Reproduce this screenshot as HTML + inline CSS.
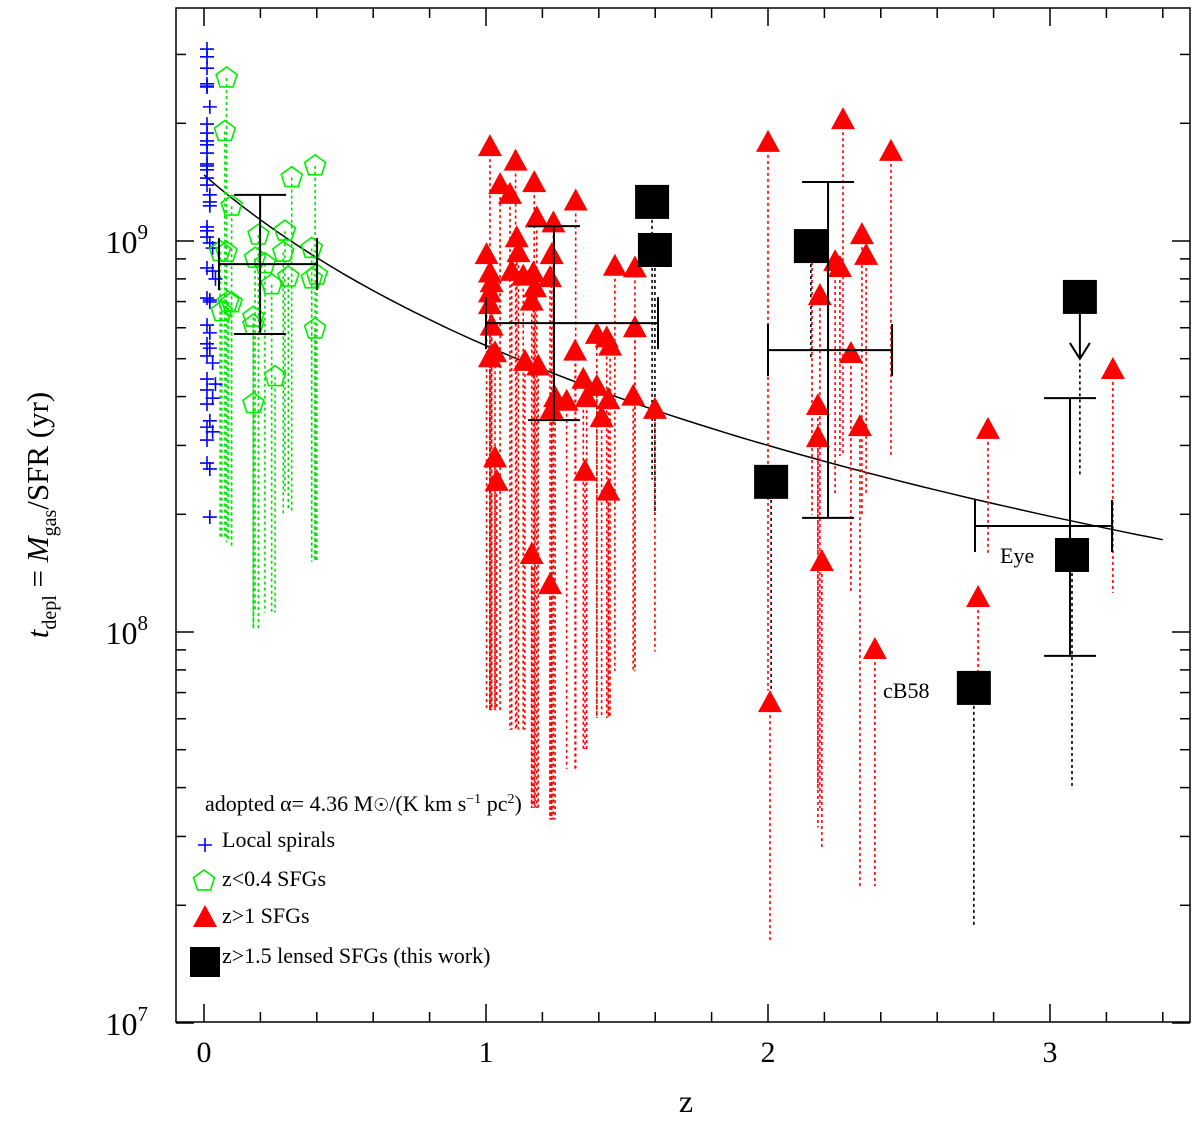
<!DOCTYPE html>
<html><head><meta charset="utf-8"><style>
body{margin:0;background:#fff}
svg{display:block;font-family:"Liberation Serif",serif}
</style></head><body>
<svg id="chart" width="1200" height="1126" viewBox="0 0 1200 1126" xmlns="http://www.w3.org/2000/svg">
<rect x="176" y="8" width="1014" height="1014" fill="none" stroke="#000" stroke-width="1.5"/>
<g id="ticks"></g>
<g id="lines"></g>
<g id="marks"></g>
<text x="686" y="1112" font-size="32" text-anchor="middle">z</text>
<text transform="translate(48,515) rotate(-90)" font-size="31" text-anchor="middle"><tspan font-style="italic">t</tspan><tspan font-size="20" dy="8">depl</tspan><tspan dy="-8"> = </tspan><tspan font-style="italic">M</tspan><tspan font-size="20" dy="8">gas</tspan><tspan dy="-8">/SFR (yr)</tspan></text>
<g font-size="22">
<text x="205" y="811">adopted α= 4.36 M<tspan font-family="DejaVu Sans" font-size="18">☉</tspan>/(K km s<tspan font-size="14" dy="-8">−1</tspan><tspan dy="8"> pc</tspan><tspan font-size="14" dy="-8">2</tspan><tspan dy="8">)</tspan></text>
<g id="legendsym"></g>
<text x="222" y="847">Local spirals</text>
<text x="222" y="886">z&lt;0.4 SFGs</text>
<text x="222" y="923">z&gt;1 SFGs</text>
<text x="222" y="963">z&gt;1.5 lensed SFGs (this work)</text>
</g>
<text x="1000" y="563" font-size="22">Eye</text>
<text x="883" y="698" font-size="22">cB58</text>
</svg>
<script>
// Data (z, log10 t_depl)
const spiralZ=[0,0,0,0,0,0,0.01,0,0,0,0,0,0,0,0,0,0,0.01,0.01,0.01,0,0,0,0.01,0.02,0,0.02,0.03,0,0.01,0.01,0,0.01,0,0.01,0,0.02,0,0.03,0,0.02,0,0.01,0,0.02,0,0,0.01,0.01];
const spiralLogT=[9.491,9.471,9.442,9.402,9.396,9.394,9.343,9.299,9.276,9.256,9.246,9.225,9.197,9.192,9.182,9.161,9.143,9.118,9.100,9.090,9.036,9.026,9.010,8.995,8.982,8.931,8.923,8.903,8.854,8.849,8.844,8.785,8.765,8.737,8.726,8.706,8.688,8.647,8.634,8.619,8.598,8.583,8.540,8.524,8.512,8.491,8.432,8.417,8.294];
const lowZ=[0.080,0.074,0.098,0.057,0.080,0.193,0.287,0.311,0.394,0.181,0.281,0.382,0.216,0.240,0.299,0.382,0.400,0.063,0.086,0.098,0.175,0.175,0.394,0.252,0.175];
const lowLogT=[9.417,9.280,9.089,8.973,8.971,9.015,9.025,9.162,9.192,8.956,8.971,8.981,8.942,8.888,8.908,8.903,8.913,8.819,8.844,8.842,8.805,8.785,8.775,8.653,8.584];
const lowBottom=[8.24,8.24,8.22,8.24,8.23,8.01,8.36,8.31,8.18,8.05,8.30,8.18,8.05,8.05,8.31,8.18,8.18,8.24,8.23,8.22,8.01,8.01,8.18,8.05,8.01];
const hiZ=[1.014,1.105,1.050,1.085,1.171,1.318,1.180,1.239,1.109,1.115,1.233,1.002,1.014,1.020,1.091,1.132,1.168,1.227,1.174,1.162,1.014,1.014,1.020,1.457,1.528,1.528,1.393,1.428,1.440,1.316,1.014,1.032,1.138,1.185,1.345,1.393,1.434,1.522,1.599,1.245,1.286,1.233,1.357,1.410,1.032,1.038,1.351,1.434,1.162,1.227,
2.000,2.266,2.436,2.156,2.238,2.333,2.348,2.255,2.184,2.294,2.177,2.177,2.326,2.191,2.007,2.379,2.745,2.780,3.223];
const hiLogT=[9.240,9.203,9.143,9.118,9.148,9.101,9.058,9.045,9.007,8.969,8.964,8.964,8.917,8.892,8.921,8.909,8.917,8.905,8.879,8.845,8.866,8.836,8.781,8.934,8.930,8.777,8.760,8.751,8.730,8.717,8.700,8.713,8.691,8.679,8.645,8.627,8.593,8.602,8.568,8.598,8.589,8.568,8.598,8.547,8.444,8.384,8.410,8.359,8.197,8.120,
9.251,9.309,9.228,8.977,8.946,9.015,8.962,8.931,8.859,8.711,8.578,8.496,8.524,8.179,7.818,7.954,8.087,8.517,8.670];
const hiBottom=[7.80,7.75,7.80,7.75,7.55,7.65,7.55,7.52,7.75,7.75,7.52,7.80,7.80,7.80,7.75,7.75,7.55,7.52,7.55,7.55,7.80,7.80,7.80,7.90,7.90,7.90,7.78,7.78,7.78,7.65,7.80,7.80,7.75,7.55,7.70,7.78,7.78,7.90,7.95,7.52,7.65,7.52,7.70,7.78,7.80,7.80,7.70,7.78,7.55,7.52,
7.85,8.45,8.45,8.30,8.35,8.30,8.35,8.45,7.55,8.10,7.50,7.60,7.35,7.45,7.21,7.35,7.85,8.20,8.10];
const lensZ=[1.589,1.599,2.152,2.011,3.106,3.078,2.730];
const lensLogT=[9.100,8.977,8.987,8.384,8.857,8.197,7.857];
const lensBottom=[8.39,8.30,8.70,7.85,8.40,7.60,7.25];
const lensUpperLimit=[false,false,false,false,true,false,false];
// Binned error bars
const binZ=[0.199,1.241,2.213,3.071];
const binZlo=[0.053,1.0,2.0,2.734];
const binZhi=[0.401,1.610,2.440,3.220];
const binLogT=[8.941,8.790,8.721,8.271];
const binLogLo=[8.762,8.542,8.292,7.939];
const binLogHi=[9.118,9.038,9.151,8.598];
const xTickLabels=["0","1","2","3"];
const yTickExps=[7,8,9];
// Model: t = 10^9.169 (1+z)^-1.45
const modelLogT0=9.169, modelSlope=1.45;

const NS="http://www.w3.org/2000/svg";
const X=z=>204+282*z;
const Y=lt=>241+391*(9-lt);
function mk(tag,attrs,parent){const e=document.createElementNS(NS,tag);for(const k in attrs)e.setAttribute(k,attrs[k]);parent.appendChild(e);return e;}
const ticks=document.getElementById('ticks'),lines=document.getElementById('lines'),marks=document.getElementById('marks');
const T=document.getElementById('chart');
// x ticks
for(let i=0;i<=17;i++){const z=-0.0+i*0.2;if(z>3.45)break;const x=X(z);const major=i%5==0;const L=major?18:10;
 let t=mk('line',{x1:x,y1:1022,x2:x,y2:1022-L,stroke:'#000','stroke-width':1.5},ticks);
 
 t=mk('line',{x1:x,y1:8,x2:x,y2:8+L,stroke:'#000','stroke-width':1.5},ticks);
 }
xTickLabels.forEach((s,i)=>{const t=mk('text',{x:X(i),y:1062,'font-size':30,'text-anchor':'middle'},T);t.textContent=s;
 });
// y ticks
for(let e=7;e<=9;e++){for(let m=1;m<=9;m++){const lt=e+Math.log10(m);if(lt>9.596)break;const y=Y(lt);const L=m==1?18:10;
 let t=mk('line',{x1:176,y1:y,x2:176+L,y2:y,stroke:'#000','stroke-width':1.5},ticks);
 
 t=mk('line',{x1:1190,y1:y,x2:1190-L,y2:y,stroke:'#000','stroke-width':1.5},ticks);
 }}
yTickExps.forEach(e=>{const t=mk('text',{x:148,y:Y(e)+12,'font-size':32,'text-anchor':'end'},T);
 t.innerHTML='10<tspan font-size="21" dy="-14">'+e+'</tspan>';
 });
// model curve
let d='';for(let i=0;i<=68;i++){const z=i*0.05;d+=(i?'L':'M')+X(z).toFixed(1)+' '+Y(modelLogT0-modelSlope*Math.log10(1+z)).toFixed(1);}
let c=mk('path',{d:d,fill:'none',stroke:'#000','stroke-width':1.5},lines);

// dotted lines
function dl(z,a,b,col,name){const l=mk('line',{x1:X(z),y1:Y(a),x2:X(z),y2:Y(b),stroke:col,'stroke-width':1.6,'stroke-dasharray':'3,3'},lines);
 }
lowZ.forEach((z,i)=>dl(z,lowLogT[i],lowBottom[i],'#00e000','low-z-range'));
hiZ.forEach((z,i)=>dl(z,hiLogT[i],hiBottom[i],'#ff0000','high-z-range'));
lensZ.forEach((z,i)=>dl(z,lensUpperLimit[i]?lensLogT[i]-0.17:lensLogT[i],lensBottom[i],'#000','lensed-range'));
// shapes
function pent(cx,cy,r){let p=[];for(let k=0;k<5;k++){const a=-Math.PI/2+k*2*Math.PI/5;p.push((cx+r*Math.cos(a)).toFixed(1)+','+(cy+r*Math.sin(a)).toFixed(1));}return p.join(' ');}
function plus(g,x,y,name){const p=mk('path',{d:`M${x-7} ${y}H${x+7}M${x} ${y-7}V${y+7}`,stroke:'#0000ff','stroke-width':1.6,fill:'none'},g);
 }
function pg(g,x,y,name){const p=mk('polygon',{points:pent(x,y,11),fill:'none',stroke:'#00ee00','stroke-width':1.6},g);
 }
function tri(g,x,y,name){const p=mk('polygon',{points:`${x},${y-13} ${x-12},${y+9} ${x+12},${y+9}`,fill:'#ff0000'},g);
 }
function sq(g,x,y,s,name){const p=mk('rect',{x:x-s/2,y:y-s/2,width:s,height:s,fill:'#000'},g);
 }
spiralZ.forEach((z,i)=>plus(marks,X(z)+3,Y(spiralLogT[i]),'local-spiral-point'));
lowZ.forEach((z,i)=>pg(marks,X(z),Y(lowLogT[i]),'low-z-sfg-point'));
hiZ.forEach((z,i)=>tri(marks,X(z),Y(hiLogT[i]),'high-z-sfg-point'));
// error bars
binZ.forEach((z,i)=>{const g=mk('g',{stroke:'#000','stroke-width':2,fill:'none'},marks);
 
 const xc=X(z),yc=Y(binLogT[i]),x0=X(binZlo[i]),x1=X(binZhi[i]),y0=Y(binLogLo[i]),y1=Y(binLogHi[i]);
 mk('path',{d:`M${xc} ${y0}V${y1}M${xc-26} ${y0}H${xc+26}M${xc-26} ${y1}H${xc+26}M${x0} ${yc}H${x1}M${x0} ${yc-26}V${yc+26}M${x1} ${yc-26}V${yc+26}`},g);});
lensZ.forEach((z,i)=>{sq(marks,X(z),Y(lensLogT[i]),34,'lensed-sfg-point');
 if(lensUpperLimit[i]){const x=X(z),y=Y(lensLogT[i]);const a=mk('path',{d:`M${x} ${y+17}V${y+62}M${x-10} ${y+46}L${x} ${y+62}L${x+10} ${y+46}`,stroke:'#000','stroke-width':2,fill:'none'},marks);
 }});
// legend symbols
const ls=document.getElementById('legendsym');
plus(ls,205,845,'legend-plus-symbol');pg(ls,204,881,'legend-pentagon-symbol');tri(ls,205,918,'legend-triangle-symbol');sq(ls,205,962,30,'legend-square-symbol');
</script>
</body></html>
